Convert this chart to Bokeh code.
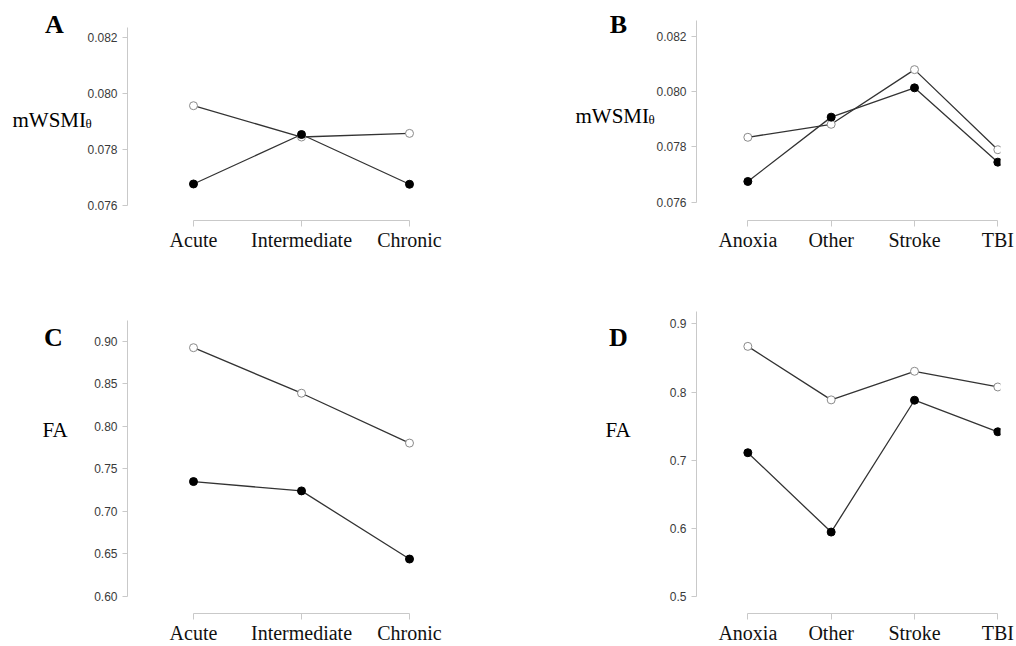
from bokeh.plotting import figure
from bokeh.layouts import column, row
from bokeh.models import Range1d, FixedTicker, PrintfTickFormatter, Label
from bokeh.embed import file_html
from bokeh.resources import INLINE

# ---------------- data ----------------
time_categories = ["Acute", "Intermediate", "Chronic"]
etiology_categories = ["Anoxia", "Other", "Stroke", "TBI"]

A_open = [0.07957, 0.07845, 0.07858]
A_filled = [0.07677, 0.07854, 0.07676]
B_open = [0.07835, 0.07882, 0.08080, 0.07790]
B_filled = [0.07675, 0.07908, 0.08014, 0.07745]
C_open = [0.8926, 0.8390, 0.7803]
C_filled = [0.7350, 0.7240, 0.6438]
D_open = [0.8669, 0.7885, 0.8304, 0.8074]
D_filled = [0.7111, 0.5949, 0.7880, 0.7418]

A_ticks = [0.076, 0.078, 0.080, 0.082]
B_ticks = [0.076, 0.078, 0.080, 0.082]
C_ticks = [0.60, 0.65, 0.70, 0.75, 0.80, 0.85, 0.90]
D_ticks = [0.5, 0.6, 0.7, 0.8, 0.9]

SERIF = "Liberation Serif"
SANS = "Liberation Sans"
AXIS_GREY = "#c9c9c9"


def panel(cats, open_vals, filled_vals, yticks, yfmt, yrange, ybound_top, xrange,
          width, height, borders, letter, letter_pos, letter_side, ylab, ylab_pos, sub_pos):
    bl, br, bt, bb = borders
    p = figure(width=width, height=height, output_backend="svg", toolbar_location=None,
               x_range=Range1d(*xrange), y_range=Range1d(*yrange),
               min_border_left=bl, min_border_right=br, min_border_top=bt, min_border_bottom=bb)
    p.outline_line_color = None
    p.grid.visible = False
    xs = list(range(len(cats)))

    fw = width - bl - br
    fh = height - bt - bb

    def dx(px):
        return xrange[0] + (px - bl) / fw * (xrange[1] - xrange[0])

    def dy(py):
        return yrange[0] + (height - bb - py) / fh * (yrange[1] - yrange[0])

    # x axis
    p.xaxis.ticker = FixedTicker(ticks=xs)
    p.xaxis.major_label_overrides = {i: c for i, c in enumerate(cats)}
    p.xaxis.bounds = (xs[0], xs[-1])
    p.xaxis.minor_tick_line_color = None
    p.xaxis.major_tick_in = 0
    p.xaxis.major_tick_out = 6
    p.xaxis.major_label_standoff = 2
    p.xaxis.axis_line_color = AXIS_GREY
    p.xaxis.major_tick_line_color = AXIS_GREY
    p.xaxis.major_label_text_font = SERIF
    p.xaxis.major_label_text_font_size = "20px"
    p.xaxis.major_label_text_color = "#111111"

    # y axis
    p.yaxis.ticker = FixedTicker(ticks=yticks)
    p.yaxis.formatter = PrintfTickFormatter(format=yfmt)
    p.yaxis.bounds = (yticks[0], ybound_top)
    p.yaxis.minor_tick_line_color = None
    p.yaxis.major_tick_in = 0
    p.yaxis.major_tick_out = 5
    p.yaxis.major_label_standoff = 5
    p.yaxis.axis_line_color = AXIS_GREY
    p.yaxis.major_tick_line_color = AXIS_GREY
    p.yaxis.major_label_text_font = SANS
    p.yaxis.major_label_text_font_size = "12px"
    p.yaxis.major_label_text_color = "#3a3a3a"

    # data
    p.line(xs, open_vals, line_color="#333333", line_width=1.3)
    p.line(xs, filled_vals, line_color="#333333", line_width=1.3)
    p.scatter(xs, open_vals, size=8, fill_color="white", line_color="#8a8a8a", line_width=1)
    p.scatter(xs, filled_vals, size=8, fill_color="black", line_color="black", line_width=1)

    # panel letter (side panel annotations are not clipped to the frame)
    p.add_layout(Label(x=dx(letter_pos[0]), y=dy(letter_pos[1]),
                       text=letter, text_font=SERIF, text_font_style="bold",
                       text_font_size="26px", text_align="center", text_baseline="alphabetic",
                       text_color="black"), letter_side)
    # y label
    p.add_layout(Label(x=dx(ylab_pos[0]), y=dy(ylab_pos[1]),
                       text=ylab, text_font=SERIF, text_font_size="21px",
                       text_align="left", text_baseline="alphabetic", text_color="black"), "left")
    if sub_pos is not None:
        p.add_layout(Label(x=dx(sub_pos[0]), y=dy(sub_pos[1]),
                           text="θ", text_font=SERIF, text_font_size="13px",
                           text_align="left", text_baseline="alphabetic", text_color="black"), "left")
    return p


pA = panel(time_categories, A_open, A_filled, A_ticks, "%.3f", (0.075463, 0.082619), 0.082369,
           (-0.611, 2.611), 548, 300, (127, 73, 20, 80),
           "A", (54, 24), "right", "mWSMI", (12, 119), (85, 123))
pB = panel(etiology_categories, B_open, B_filled, B_ticks, "%.3f", (0.075337, 0.082579), 0.082579,
           (-0.616, 3.032), 468, 300, (148, 16, 20, 80),
           "B", (70, 24), "left", "mWSMI", (27, 115), (100, 119))
pC = panel(time_categories, C_open, C_filled, C_ticks, "%.2f", (0.5797, 0.9352), 0.92464,
           (-0.611, 2.611), 548, 346, (127, 73, 11, 32),
           "C", (53, 37), "left", "FA", (42, 130), None)
pD = panel(etiology_categories, D_open, D_filled, D_ticks, "%.1f", (0.47562, 0.91796), 0.91796,
           (-0.616, 3.032), 468, 346, (148, 16, 11, 32),
           "D", (70, 37), "left", "FA", (57, 130), None)

layout = column(row(pA, pB), row(pC, pD))
open("out.html", "w").write(file_html(layout, INLINE))
